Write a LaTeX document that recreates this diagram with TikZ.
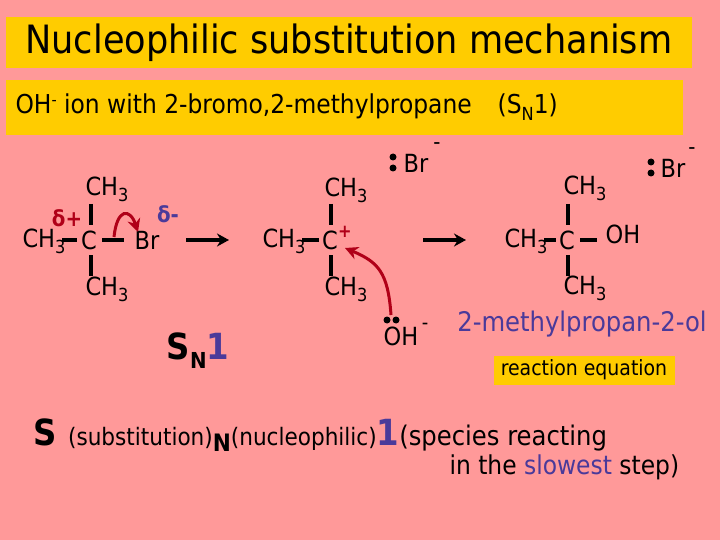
\documentclass[tikz,border=0pt]{standalone}
\usepackage{fontspec}
\setmainfont{DejaVu Sans Condensed}
\usepackage{xcolor}
\usetikzlibrary{arrows.meta}
\definecolor{bgpink}{HTML}{FF9999}
\definecolor{boxyellow}{HTML}{FFCC00}
\definecolor{arrred}{HTML}{B00018}
\definecolor{txtblue}{HTML}{4A3A9A}
\newcommand{\fs}[1]{\fontsize{#1}{#1}\selectfont}
\newcommand{\lowidx}[1]{\raisebox{-0.45ex}{\fs{18}#1}}
\newcommand{\methyl}{CH\lowidx{3}}
\begin{document}
\begin{tikzpicture}[x=1pt,y=-1pt,
    atom/.style={inner sep=0pt,font=\fs{25}},
    bond/.style={line width=3.5pt},
    react/.style={line width=3.5pt,-{Stealth[length=12pt,width=13pt]}},
    curly/.style={line width=3pt,arrred,-{Stealth[length=13pt,width=13pt]}},
    pair/.style={fill=black,circle,inner sep=0pt,minimum size=7pt}]
    \fill[bgpink] (0,0) rectangle (720,540);
    \useasboundingbox (0,0) rectangle (720,540);

    % title boxes
    \fill[boxyellow] (6,17) rectangle (692,68);
    \node[font=\fs{39}] (title) at (349,43) {Nucleophilic substitution mechanism};
    \fill[boxyellow] (6,80) rectangle (683,135);
    \node[anchor=west,font=\fs{26}] (sub) at (12,107) {OH\raisebox{0.6ex}{\fs{16}-} ion with 2-bromo,2-methylpropane\quad(S\lowidx{N}1)};

    % 2-bromo-2-methylpropane
    \node[atom] (c1) at (89,240) {C};
    \node[atom] (c1t) at (107,189) {\methyl};
    \node[atom] (c1l) at (44,241) {\methyl};
    \node[atom] (c1b) at (107,289) {\methyl};
    \node[atom] (br1) at (147,240) {Br};
    \draw[bond] (91,204) -- (91,225);
    \draw[bond] (91,255) -- (91,276);
    \draw[bond] (62,240) -- (77,240);
    \draw[bond] (102,240) -- (124,240);
    \node[font=\fs{22}\bfseries,arrred] (dplus) at (67,218) {δ+};
    \node[font=\fs{22}\bfseries,txtblue] (dminus) at (168,214) {δ-};
    \draw[curly] (114,237) .. controls (117,208) and (130,208) .. (138,232);

    \draw[react] (186,240) -- (229,240);

    % carbocation
    \node[atom] (c2) at (330,240) {C};
    \node[atom,font=\fs{18}\bfseries,arrred] (cplus) at (345,232) {+};
    \node[atom] (c2t) at (346,190) {\methyl};
    \node[atom] (c2l) at (284,241) {\methyl};
    \node[atom] (c2b) at (346,289) {\methyl};
    \draw[bond] (331,204) -- (331,225);
    \draw[bond] (331,255) -- (331,276);
    \draw[bond] (302,240) -- (319,240);
    \node[atom] (br2) at (416,163) {Br};
    \node[atom,font=\fs{22}] at (437,146) {-};
    \node[pair] at (393,157) {};
    \node[pair] at (393,168) {};

    \node[atom] (oh) at (401,336) {OH};
    \node[atom,font=\fs{20}] at (425,326) {-};
    \node[pair] at (387,320) {};
    \node[pair] at (396,320) {};
    \draw[curly] (391,315) .. controls (388,272) and (378,262) .. (345,248);

    \draw[react] (423,240) -- (466,240);

    % 2-methylpropan-2-ol
    \node[atom] (c3) at (567,240) {C};
    \node[atom] (c3t) at (585,188) {\methyl};
    \node[atom] (c3l) at (526,241) {\methyl};
    \node[atom] (c3b) at (585,288) {\methyl};
    \node[atom] (oh3) at (623,234) {OH};
    \draw[bond] (568,204) -- (568,225);
    \draw[bond] (568,255) -- (568,276);
    \draw[bond] (544,240) -- (556,240);
    \draw[bond] (580,240) -- (597,240);
    \node[atom] (br3) at (673,168) {Br};
    \node[atom,font=\fs{22}] at (692,151) {-};
    \node[pair] at (651,162) {};
    \node[pair] at (651,173) {};
    \node[txtblue,font=\fs{27}] (name) at (582,324) {2-methylpropan-2-ol};
    \node[fill=boxyellow,font=\fs{21},inner sep=4pt,minimum width=181pt,minimum height=29pt] (eq) at (584,370) {reaction equation};

    % explanation
    \node[font=\fs{36}\bfseries] (sn) at (198,351) {S\lowidx{\fs{22}\bfseries N}\textcolor{txtblue}{1}};
    \node[anchor=west] (expl) at (30,435)
      {\fs{36}\bfseries S \fs{24}\mdseries(substitution)\lowidx{\fs{24}\bfseries N}\fs{24}(nucleophilic)\fs{36}\bfseries\textcolor{txtblue}{1}\fs{27}\mdseries(species reacting};
    \node[anchor=west,font=\fs{26}] (expl2) at (446,467) {in the \textcolor{txtblue}{slowest} step)};
\end{tikzpicture}
\end{document}
